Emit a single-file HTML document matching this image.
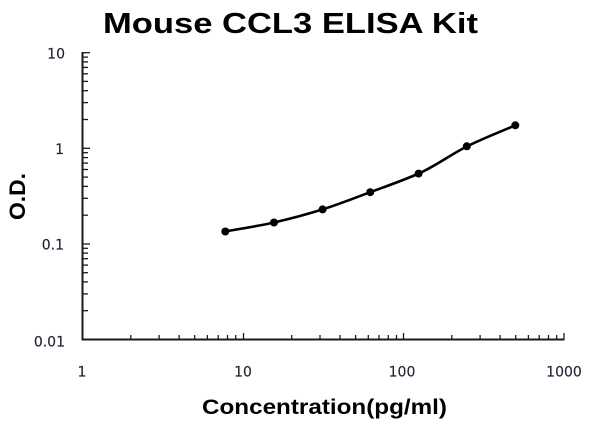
<!DOCTYPE html>
<html>
<head>
<meta charset="utf-8">
<style>
  html, body { margin: 0; padding: 0; background: #ffffff; }
  svg { display: block; }
</style>
</head>
<body>
<svg width="600" height="447" viewBox="0 0 600 447" xmlns="http://www.w3.org/2000/svg">
  <rect width="600" height="447" fill="#ffffff"/>
  <!-- Title -->
  <text x="103" y="33" font-family="Liberation Sans, Arial, sans-serif" font-weight="bold" font-size="29" fill="#000" textLength="375" lengthAdjust="spacingAndGlyphs">Mouse CCL3 ELISA Kit</text>

  <!-- Axes -->
  <g stroke="#1a1a1a" stroke-width="2" fill="none">
    <line x1="82.5" y1="52" x2="82.5" y2="340.5"/>
    <line x1="81.5" y1="339.5" x2="564.5" y2="339.5"/>
  </g>

  <!-- Y ticks -->
  <g stroke="#1a1a1a" stroke-width="1.3">
    <line x1="82.5" y1="52.7" x2="90" y2="52.7"/>
    <line x1="82.5" y1="148.3" x2="90" y2="148.3"/>
    <line x1="82.5" y1="244" x2="90" y2="244"/>
    <line x1="82.5" y1="119.5" x2="88" y2="119.5"/>
    <line x1="82.5" y1="102.6" x2="88" y2="102.6"/>
    <line x1="82.5" y1="90.7" x2="88" y2="90.7"/>
    <line x1="82.5" y1="81.4" x2="88" y2="81.4"/>
    <line x1="82.5" y1="73.8" x2="88" y2="73.8"/>
    <line x1="82.5" y1="67.4" x2="88" y2="67.4"/>
    <line x1="82.5" y1="61.9" x2="88" y2="61.9"/>
    <line x1="82.5" y1="57.1" x2="88" y2="57.1"/>
    <line x1="82.5" y1="215.2" x2="88" y2="215.2"/>
    <line x1="82.5" y1="198.3" x2="88" y2="198.3"/>
    <line x1="82.5" y1="186.4" x2="88" y2="186.4"/>
    <line x1="82.5" y1="177.1" x2="88" y2="177.1"/>
    <line x1="82.5" y1="169.5" x2="88" y2="169.5"/>
    <line x1="82.5" y1="163.1" x2="88" y2="163.1"/>
    <line x1="82.5" y1="157.6" x2="88" y2="157.6"/>
    <line x1="82.5" y1="152.7" x2="88" y2="152.7"/>
    <line x1="82.5" y1="310.7" x2="88" y2="310.7"/>
    <line x1="82.5" y1="293.9" x2="88" y2="293.9"/>
    <line x1="82.5" y1="281.9" x2="88" y2="281.9"/>
    <line x1="82.5" y1="272.7" x2="88" y2="272.7"/>
    <line x1="82.5" y1="265.1" x2="88" y2="265.1"/>
    <line x1="82.5" y1="258.7" x2="88" y2="258.7"/>
    <line x1="82.5" y1="253.1" x2="88" y2="253.1"/>
    <line x1="82.5" y1="248.3" x2="88" y2="248.3"/>
  </g>

  <!-- X ticks -->
  <g stroke="#1a1a1a" stroke-width="1.3">
    <line x1="243.5" y1="339.5" x2="243.5" y2="333"/>
    <line x1="403.5" y1="339.5" x2="403.5" y2="333"/>
    <line x1="564" y1="339.5" x2="564" y2="333"/>
    <line x1="130.8" y1="339.5" x2="130.8" y2="335"/>
    <line x1="159.1" y1="339.5" x2="159.1" y2="335"/>
    <line x1="179.1" y1="339.5" x2="179.1" y2="335"/>
    <line x1="194.7" y1="339.5" x2="194.7" y2="335"/>
    <line x1="207.4" y1="339.5" x2="207.4" y2="335"/>
    <line x1="218.2" y1="339.5" x2="218.2" y2="335"/>
    <line x1="227.5" y1="339.5" x2="227.5" y2="335"/>
    <line x1="235.7" y1="339.5" x2="235.7" y2="335"/>
    <line x1="291.7" y1="339.5" x2="291.7" y2="335"/>
    <line x1="320" y1="339.5" x2="320" y2="335"/>
    <line x1="340" y1="339.5" x2="340" y2="335"/>
    <line x1="355.6" y1="339.5" x2="355.6" y2="335"/>
    <line x1="368.3" y1="339.5" x2="368.3" y2="335"/>
    <line x1="379" y1="339.5" x2="379" y2="335"/>
    <line x1="388.3" y1="339.5" x2="388.3" y2="335"/>
    <line x1="396.5" y1="339.5" x2="396.5" y2="335"/>
    <line x1="451.8" y1="339.5" x2="451.8" y2="335"/>
    <line x1="480.1" y1="339.5" x2="480.1" y2="335"/>
    <line x1="500.1" y1="339.5" x2="500.1" y2="335"/>
    <line x1="515.7" y1="339.5" x2="515.7" y2="335"/>
    <line x1="528.4" y1="339.5" x2="528.4" y2="335"/>
    <line x1="539.2" y1="339.5" x2="539.2" y2="335"/>
    <line x1="548.5" y1="339.5" x2="548.5" y2="335"/>
    <line x1="556.7" y1="339.5" x2="556.7" y2="335"/>
  </g>

  <!-- Tick labels -->
  <g font-family="DejaVu Sans, Verdana, sans-serif" font-size="14" fill="#222233" stroke="#222233" stroke-width="0.15">
    <text x="65" y="58.5" text-anchor="end">10</text>
    <text x="64" y="154" text-anchor="end">1</text>
    <text x="64" y="249.5" text-anchor="end">0.1</text>
    <text x="65" y="346.5" text-anchor="end">0.01</text>

    <text x="82" y="376.5" text-anchor="middle">1</text>
    <text x="243" y="376.5" text-anchor="middle">10</text>
    <text x="402" y="376.5" text-anchor="middle">100</text>
    <text x="564" y="376.5" text-anchor="middle">1000</text>
  </g>

  <!-- Axis titles -->
  <text x="202" y="414" font-family="Liberation Sans, Arial, sans-serif" font-weight="bold" font-size="21" fill="#000" textLength="245" lengthAdjust="spacingAndGlyphs">Concentration(pg/ml)</text>
  <text transform="translate(25,220) rotate(-90)" x="0" y="0" font-family="Liberation Sans, Arial, sans-serif" font-weight="bold" font-size="22" fill="#000" textLength="47" lengthAdjust="spacingAndGlyphs">O.D.</text>

  <!-- Curve -->
  <path d="M225.3,231.5 C241.5,228.5 257.8,226.2 274,222.5 C290.2,218.8 306.6,214.45 322.6,209.4 C338.6,204.35 354.2,198.13 370.2,192.2 C386.2,186.27 402.7,180.6 418.8,173.5 C434.9,166.4 450.7,154.58 466.8,146.5 C482.9,138.42 499.1,132.37 515.3,125.3"
        fill="none" stroke="#000" stroke-width="2.6" stroke-linecap="round" stroke-linejoin="round"/>

  <!-- Data points -->
  <g fill="#000">
    <circle cx="225.3" cy="231.5" r="4"/>
    <circle cx="274" cy="222.5" r="4"/>
    <circle cx="322.6" cy="209.4" r="4"/>
    <circle cx="370.2" cy="192.2" r="4"/>
    <circle cx="418.6" cy="173.6" r="4"/>
    <circle cx="466.8" cy="146.3" r="4"/>
    <circle cx="515.3" cy="125.3" r="4"/>
  </g>
</svg>
</body>
</html>
